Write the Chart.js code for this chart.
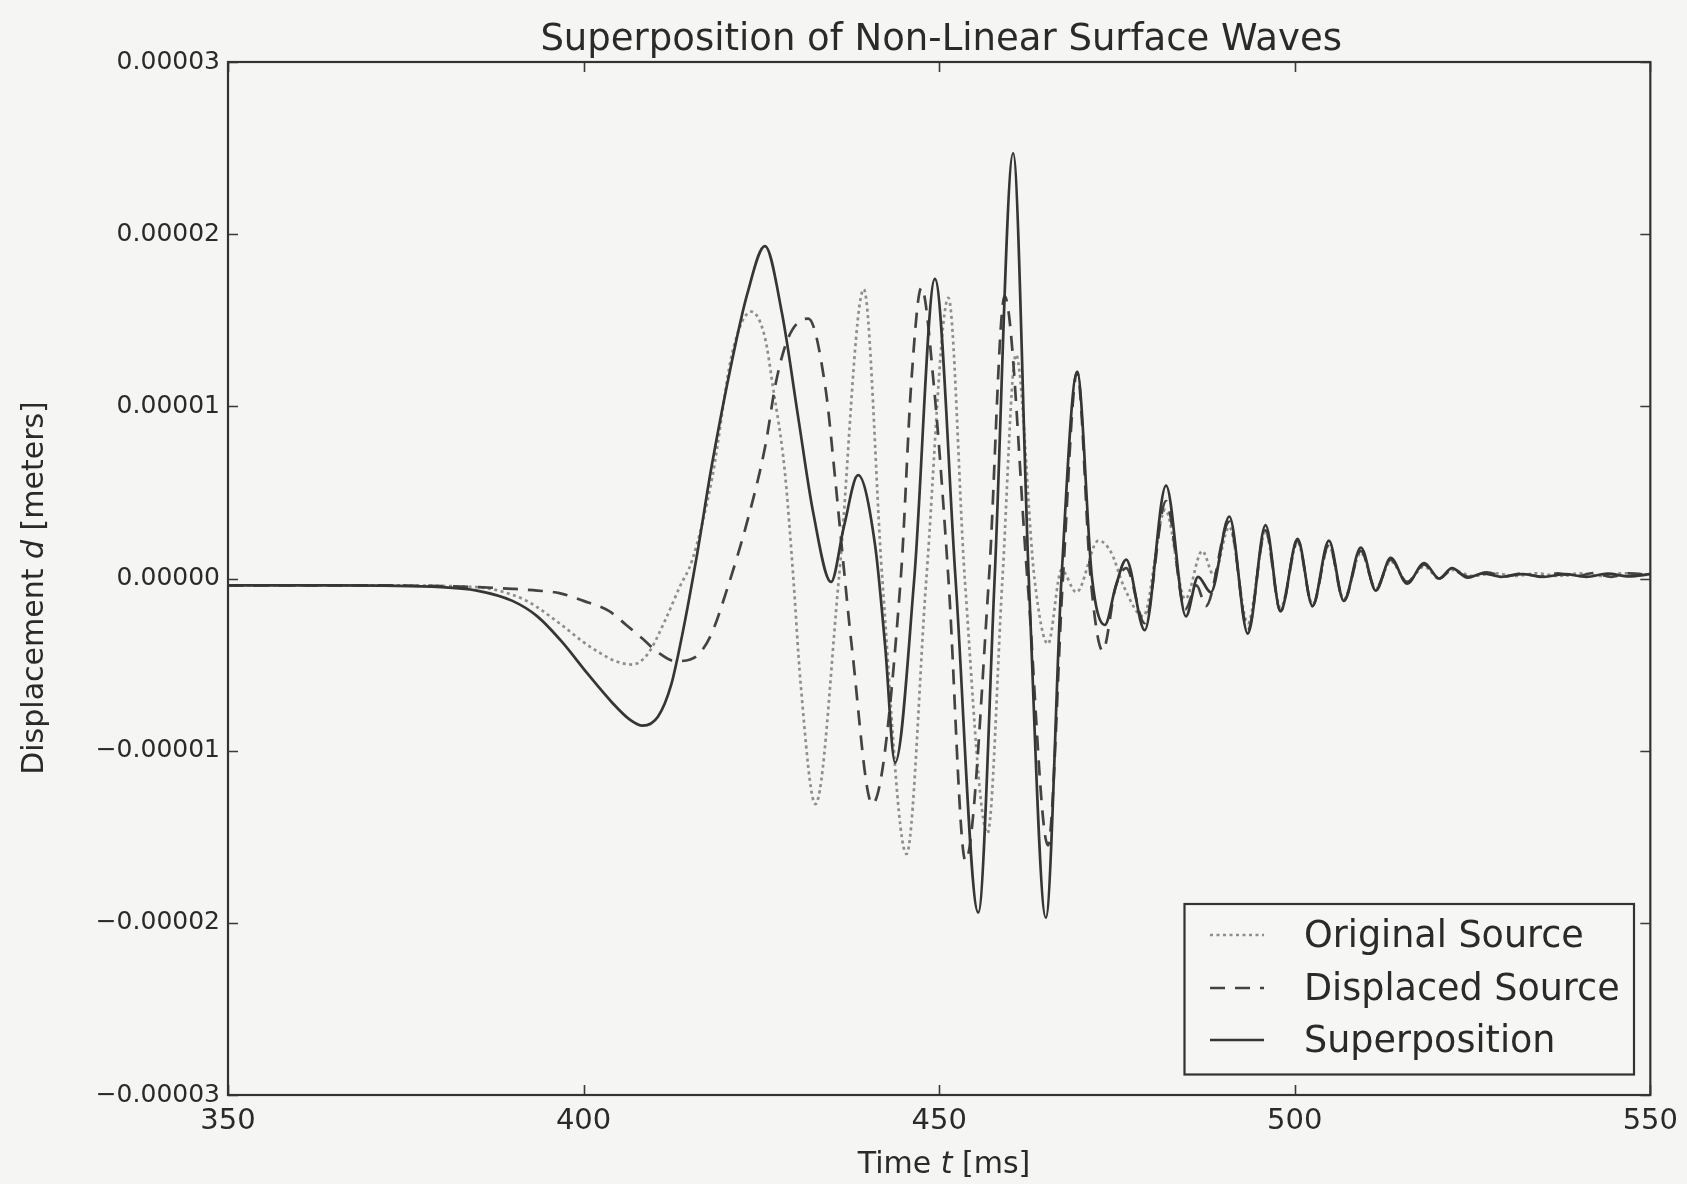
<!DOCTYPE html>
<html>
<head>
<meta charset="utf-8">
<title>Superposition of Non-Linear Surface Waves</title>
<script src="https://cdn.jsdelivr.net/npm/chart.js@4.4.1/dist/chart.umd.min.js"></script>
<style>
  html, body { margin: 0; padding: 0; background: #f5f5f3; }
  canvas { display: block; }
</style>
</head>
<body>
<canvas id="waves" width="1687" height="1184"></canvas>
<script>
// time t in ms, displacement d in units of 1e-5 m
const tOriginal = [350, 370, 385, 388, 392, 396.6, 400, 402.2, 404.5, 406.8, 409, 411.5, 413.5, 415.3, 418.1, 420.9, 423.6, 425.5, 426.6, 428.3, 429.5, 430.5, 432.6, 435.9, 439.4, 442.0, 445.4, 448.2, 451.3, 453.6, 456.8, 458.9, 460.8, 463.4, 465.3, 467.2, 469.3, 472.4, 474.2, 476.0, 478.7, 481.8, 484.6, 487.0, 488.6, 490.8, 493.4, 495.9, 498.0, 500.4, 502.5, 504.8, 506.9, 509.3, 511.4, 513.5, 515.8, 518.2, 520.3, 522.1, 525, 528, 531, 534, 537, 540, 543, 546, 550];
const dOriginal = [-0.04, -0.04, -0.05, -0.07, -0.13, -0.26, -0.37, -0.43, -0.48, -0.50, -0.44, -0.24, -0.05, 0.11, 0.59, 1.31, 1.55, 1.40, 1.12, 0.62, 0.0, -0.6, -1.31, 0.0, 1.68, 0.0, -1.60, 0.0, 1.63, 0.0, -1.48, 0.0, 1.30, 0.0, -0.38, 0.05, -0.08, 0.22, 0.15, -0.05, -0.22, 0.40, -0.12, 0.16, 0.02, 0.30, -0.26, 0.27, -0.17, 0.21, -0.15, 0.19, -0.12, 0.15, -0.06, 0.10, -0.02, 0.07, 0.0, 0.05, 0.015, 0.03, 0.015, 0.03, 0.015, 0.03, 0.015, 0.03, 0.02];

const tDisplaced = [350, 370, 385, 390, 393.5, 396.6, 400, 403.6, 406, 408.3, 410.5, 412.9, 415, 416.2, 418, 420, 423.2, 425.6, 427, 428.8, 431.6, 434, 435.4, 436.5, 437.7, 440.6, 444.6, 446.1, 447.5, 449.3, 451.3, 453.7, 457.0, 459.2, 462.4, 465.3, 467.4, 469.4, 471.3, 473.0, 474.8, 476.3, 478.9, 481.9, 484.6, 486.2, 487.5, 490.8, 493.4, 495.9, 498.0, 500.4, 502.5, 504.8, 506.9, 509.3, 511.4, 513.5, 515.8, 518.2, 520.3, 522.1, 524.5, 527, 529.5, 532, 534.5, 537, 539.5, 542, 544.5, 547, 550];
const dDisplaced = [-0.04, -0.04, -0.05, -0.06, -0.07, -0.085, -0.13, -0.19, -0.27, -0.35, -0.43, -0.48, -0.47, -0.44, -0.32, -0.085, 0.36, 0.78, 1.13, 1.40, 1.51, 1.11, 0.57, 0.1, -0.39, -1.31, 0.0, 1.15, 1.69, 1.1, 0.0, -1.64, 0.0, 1.64, 0.0, -1.55, 0.0, 1.20, 0.0, -0.42, -0.05, 0.06, -0.26, 0.45, -0.18, -0.04, -0.16, 0.33, -0.30, 0.28, -0.19, 0.22, -0.16, 0.20, -0.13, 0.16, -0.06, 0.11, -0.02, 0.08, 0.0, 0.05, 0.01, 0.035, 0.012, 0.03, 0.01, 0.03, 0.012, 0.032, 0.01, 0.03, 0.02];

const tSuper = [350, 365, 380, 385, 390, 393.5, 397, 400.5, 404, 406.5, 408.3, 410.5, 412.3, 414, 416, 418, 420.9, 423, 425.5, 427.9, 430.2, 432.3, 434.8, 436.6, 438.6, 441, 442.4, 443.8, 446.5, 449.4, 452.3, 455.5, 457.8, 460.4, 462.6, 465.0, 467.2, 469.4, 471.5, 473.3, 474.8, 476.3, 478.9, 481.9, 484.7, 486.4, 488.2, 490.8, 493.4, 495.9, 498.0, 500.4, 502.5, 504.8, 506.9, 509.3, 511.4, 513.5, 515.8, 518.2, 520.3, 522.1, 524.3, 526.5, 529, 532, 535, 538, 541, 544, 547, 550];
const dSuper = [-0.04, -0.04, -0.05, -0.07, -0.13, -0.22, -0.37, -0.55, -0.72, -0.82, -0.855, -0.80, -0.62, -0.30, 0.15, 0.65, 1.27, 1.65, 1.93, 1.54, 0.93, 0.38, -0.02, 0.30, 0.60, 0.19, -0.39, -1.07, 0.0, 1.74, 0.0, -1.94, 0.0, 2.47, 0.0, -1.97, 0.0, 1.20, 0.0, -0.27, -0.05, 0.11, -0.30, 0.54, -0.22, 0.01, -0.08, 0.36, -0.32, 0.31, -0.19, 0.23, -0.16, 0.22, -0.13, 0.18, -0.07, 0.12, -0.03, 0.09, 0.0, 0.06, 0.005, 0.03, 0.01, 0.025, 0.01, 0.025, 0.01, 0.028, 0.012, 0.025];

const seriesNames = ["Original Source", "Displaced Source", "Superposition"];
const xTicks = [350, 400, 450, 500, 550];
const yTicks = [-3, -2, -1, 0, 1, 2, 3];

const FONT = "DejaVu Sans";
const INK = "#2a2a2a";
const styles = [
  { color: "#8e8e8e", dash: [3, 3.5], width: 2.7 },
  { color: "#434343", dash: [15, 10], width: 2.7 },
  { color: "#363636", dash: [], width: 2.7 }
];

const toPoints = (ts, ds) => ts.map((t, i) => ({ x: t, y: ds[i] }));

function yLabel(v) {
  if (Math.abs(v) < 1e-9) return "0.00000";
  return (v < 0 ? "\u2212" : "") + (Math.abs(v) * 1e-5).toFixed(5);
}

// box, inward ticks, titles and legend, matplotlib style
const framePlugin = {
  id: "frame",
  afterDatasetsDraw(chart) {
    const { ctx, chartArea: a, scales } = chart;
    ctx.save();

    ctx.strokeStyle = "#3a3a3a";
    ctx.lineWidth = 1.6;
    const tl = 10;
    scales.x.ticks.forEach(tk => {
      const px = Math.round(scales.x.getPixelForValue(tk.value)) + 0.5;
      ctx.beginPath();
      ctx.moveTo(px, a.bottom); ctx.lineTo(px, a.bottom - tl);
      ctx.moveTo(px, a.top); ctx.lineTo(px, a.top + tl);
      ctx.stroke();
    });
    scales.y.ticks.forEach(tk => {
      const py = Math.round(scales.y.getPixelForValue(tk.value)) + 0.5;
      ctx.beginPath();
      ctx.moveTo(a.left, py); ctx.lineTo(a.left + tl, py);
      ctx.moveTo(a.right, py); ctx.lineTo(a.right - tl, py);
      ctx.stroke();
    });

    ctx.lineWidth = 2.2;
    ctx.strokeStyle = "#333";
    ctx.strokeRect(a.left, a.top, a.right - a.left, a.bottom - a.top);

    // title
    ctx.fillStyle = INK;
    ctx.textAlign = "center";
    ctx.textBaseline = "alphabetic";
    ctx.font = `37px "${FONT}"`;
    ctx.fillText("Superposition of Non-Linear Surface Waves", (a.left + a.right) / 2 + 2, 50);

    // x axis title with italic t
    const parts = [["Time ", "normal"], ["t", "oblique"], [" [ms]", "normal"]];
    const fontFor = st => `${st === "oblique" ? "oblique " : ""}30px "${FONT}"`;
    let total = 0;
    parts.forEach(p => { ctx.font = fontFor(p[1]); total += ctx.measureText(p[0]).width; });
    let x = 944 - total / 2;
    ctx.textAlign = "left";
    parts.forEach(p => {
      ctx.font = fontFor(p[1]);
      ctx.fillText(p[0], x, 1173);
      x += ctx.measureText(p[0]).width;
    });

    // y axis title, italic d
    const yparts = [["Displacement ", "normal"], ["d", "oblique"], [" [meters]", "normal"]];
    total = 0;
    yparts.forEach(p => { ctx.font = fontFor(p[1]); total += ctx.measureText(p[0]).width; });
    ctx.save();
    ctx.translate(43, 588);
    ctx.rotate(-Math.PI / 2);
    x = -total / 2;
    yparts.forEach(p => {
      ctx.font = fontFor(p[1]);
      ctx.fillText(p[0], x, 0);
      x += ctx.measureText(p[0]).width;
    });
    ctx.restore();

    // legend
    const box = { x: 1184.5, y: 904, w: 449.5, h: 170.5 };
    ctx.fillStyle = "#f6f6f4";
    ctx.fillRect(box.x, box.y, box.w, box.h);
    ctx.strokeStyle = "#333";
    ctx.lineWidth = 2.2;
    ctx.strokeRect(box.x, box.y, box.w, box.h);
    const rows = [935, 988, 1040];
    ctx.font = `36.5px "${FONT}"`;
    seriesNames.forEach((name, i) => {
      const st = styles[i];
      ctx.beginPath();
      ctx.setLineDash(st.dash);
      ctx.strokeStyle = st.color;
      ctx.lineWidth = st.width;
      ctx.moveTo(1210, rows[i]);
      ctx.lineTo(1264, rows[i]);
      ctx.stroke();
      ctx.setLineDash([]);
      ctx.fillStyle = INK;
      ctx.textAlign = "left";
      ctx.fillText(name, 1304, rows[i] + 12);
    });

    ctx.restore();
  }
};

const datasets = [
  [tOriginal, dOriginal],
  [tDisplaced, dDisplaced],
  [tSuper, dSuper]
].map(([ts, ds], i) => ({
  label: seriesNames[i],
  data: toPoints(ts, ds),
  borderColor: styles[i].color,
  borderDash: styles[i].dash,
  borderWidth: styles[i].width,
  order: 2 - i
}));

new Chart(document.getElementById("waves").getContext("2d"), {
  type: "line",
  data: { datasets },
  options: {
    responsive: false,
    animation: false,
    layout: { padding: { top: 62, right: 33, left: 0, bottom: 0 } },
    elements: {
      point: { radius: 0 },
      line: { cubicInterpolationMode: "monotone", fill: false, borderCapStyle: "butt" }
    },
    plugins: { legend: { display: false }, title: { display: false }, tooltip: { enabled: false } },
    scales: {
      x: {
        type: "linear",
        min: 350,
        max: 550,
        afterFit: s => { s.height = 89; },
        afterBuildTicks: s => { s.ticks = xTicks.map(v => ({ value: v })); },
        grid: { display: false, drawTicks: false },
        border: { display: false },
        ticks: { font: { family: FONT, size: 29 }, color: INK, padding: 9, maxRotation: 0, autoSkip: false }
      },
      y: {
        type: "linear",
        min: -3,
        max: 3,
        afterFit: s => { s.width = 228; },
        afterBuildTicks: s => { s.ticks = yTicks.map(v => ({ value: v })); },
        grid: { display: false, drawTicks: false },
        border: { display: false },
        ticks: { font: { family: FONT, size: 25 }, color: INK, padding: 8, callback: yLabel }
      }
    }
  },
  plugins: [framePlugin]
});
</script>
</body>
</html>
